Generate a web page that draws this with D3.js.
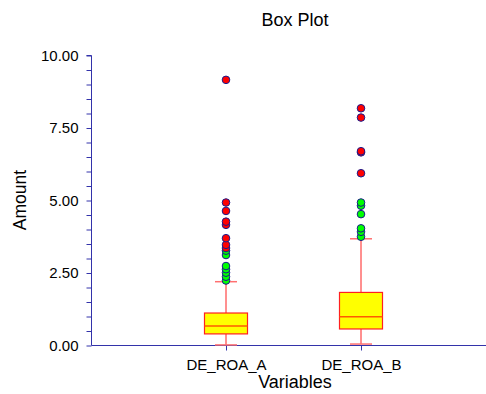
<!DOCTYPE html>
<html><head><meta charset="utf-8">
<script src="https://cdn.jsdelivr.net/npm/d3@7"></script>
<style>body{margin:0;background:#fff;} text{font-family:Arial,"Liberation Sans",sans-serif;}</style>
</head><body>
<svg id="c" width="486" height="394"></svg>
<script>
const categories = ["DE_ROA_A", "DE_ROA_B"];
const q1 = [0.40, 0.57];
const median = [0.67, 0.99];
const q3 = [1.12, 1.83];
const whiskerLow = [0.02, 0.05];
const whiskerHigh = [2.20, 3.68];
const outliersA = [9.16, 4.93, 4.64, 4.27, 4.16, 3.70, 3.47, 3.36, 3.27, 3.12, 2.74, 2.63, 2.51, 2.37, 2.24];
const outliersB = [8.18, 7.86, 6.70, 6.66, 5.94, 4.93, 4.82, 4.53, 4.04, 3.92, 3.75];
const yTicks = [0, 2.5, 5, 7.5, 10];

const svg = d3.select("#c");
const axisColor = "#3333aa";
const y = d3.scaleLinear().domain([0, 10]).range([345.5, 55.5]);
const x = d3.scaleLinear().domain([0, 3]).range([91, 496]);

// y axis
const yAxis = svg.append("g").attr("transform", "translate(91.5,0)")
  .call(d3.axisLeft(y).tickValues(d3.range(0, 10.01, 0.5)).tickSize(5).tickFormat(d => yTicks.some(t => Math.abs(t - d) < 1e-9) ? d3.format(".2f")(d) : ""));
yAxis.select(".domain").attr("stroke", axisColor).attr("d", `M-5,${y(10)}H0V${y(0)}`);
yAxis.selectAll(".tick line").attr("stroke", axisColor);
yAxis.selectAll(".tick text").attr("fill", "#000").attr("font-size", 15).attr("x", -13);

// x axis
const xAxis = svg.append("g").attr("transform", `translate(0,${y(0)})`)
  .call(d3.axisBottom(x).tickValues([1, 2]).tickSize(5).tickFormat((d, i) => categories[i]));
xAxis.select(".domain").attr("stroke", axisColor).attr("d", `M91.5,0H486`);
xAxis.selectAll(".tick line").attr("stroke", axisColor);
xAxis.selectAll(".tick text").attr("fill", "#000").attr("font-size", 15).attr("y", 24).attr("dy", null);

const half = 21.5, capHalf = 11;
categories.forEach((c, i) => {
  const cx = x(i + 1);
  const g = svg.append("g");
  g.append("line").attr("x1", cx).attr("x2", cx).attr("y1", y(whiskerHigh[i])).attr("y2", y(q3[i])).attr("stroke", "#ff2020").attr("stroke-width", 1);
  g.append("line").attr("x1", cx).attr("x2", cx).attr("y1", y(q1[i])).attr("y2", y(whiskerLow[i])).attr("stroke", "#ff2020").attr("stroke-width", 1);
  [whiskerHigh[i], whiskerLow[i]].forEach(v => {
    g.append("line").attr("x1", cx - capHalf).attr("x2", cx + capHalf).attr("y1", y(v)).attr("y2", y(v)).attr("stroke", "#ff7070").attr("stroke-width", 1.5);
  });
  g.append("rect").attr("x", cx - half).attr("width", half * 2).attr("y", y(q3[i])).attr("height", y(q1[i]) - y(q3[i]))
    .attr("fill", "#ffff00").attr("stroke", "#ff2020").attr("stroke-width", 1.2);
  g.append("line").attr("x1", cx - half).attr("x2", cx + half).attr("y1", y(median[i])).attr("y2", y(median[i])).attr("stroke", "#ff5a00").attr("stroke-width", 1.5);
  const outs = i === 0 ? outliersA : outliersB;
  const iqr = q3[i] - q1[i];
  outs.slice().sort((a, b) => a - b).forEach(v => {
    g.append("circle").attr("cx", cx).attr("cy", y(v)).attr("r", 3.8)
      .attr("fill", v > q3[i] + 3 * iqr ? "#ff0000" : "#00ff00")
      .attr("stroke", "#1a1a8c").attr("stroke-width", 1);
  });
});

svg.append("text").attr("x", 295).attr("y", 26).attr("text-anchor", "middle").attr("font-size", 18).text("Box Plot");
svg.append("text").attr("x", 295).attr("y", 388).attr("text-anchor", "middle").attr("font-size", 18).text("Variables");
svg.append("text").attr("transform", "translate(26,200) rotate(-90)").attr("text-anchor", "middle").attr("font-size", 17.5).text("Amount");
</script>
</body></html>
